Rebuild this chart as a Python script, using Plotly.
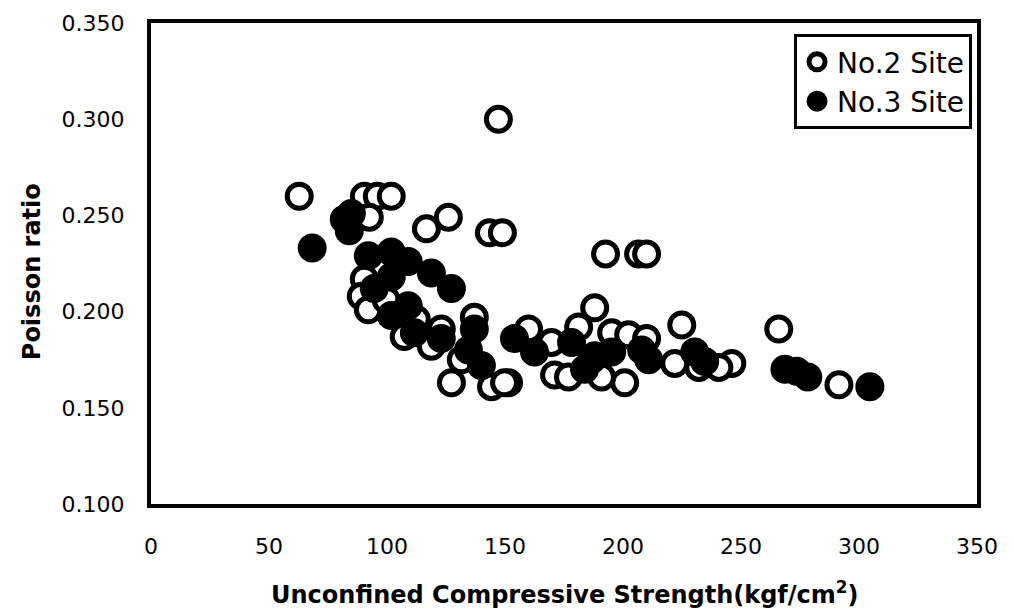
import plotly.graph_objects as go

# No.2 Site (open circles)
site2_x = [62.8, 147.2, 90.4, 95.9, 101.8, 92.5, 116.7, 126.0, 143.4, 148.9,
           192.6, 206.6, 210.0, 188.0, 224.9, 266.0, 291.5, 246.1, 240.6, 221.9,
           232.1, 160.0, 169.7, 171.0, 176.9, 181.2, 195.2, 202.4, 200.7, 151.5,
           190.9, 90.4, 89.1, 92.1, 107.3, 118.8, 127.3, 144.3, 149.8, 137.0,
           123.0, 99.7, 112.4, 131.5, 210.0, 186.7]
site2_y = [0.260, 0.300, 0.260, 0.260, 0.260, 0.249, 0.243, 0.249, 0.241, 0.241,
           0.230, 0.230, 0.230, 0.202, 0.193, 0.191, 0.162, 0.173, 0.171, 0.173,
           0.171, 0.191, 0.184, 0.167, 0.166, 0.192, 0.189, 0.188, 0.163, 0.163,
           0.166, 0.217, 0.208, 0.201, 0.187, 0.182, 0.163, 0.161, 0.163, 0.197,
           0.191, 0.206, 0.196, 0.175, 0.186, 0.175]

# No.3 Site (filled circles)
site3_x = [68.3, 81.9, 84.9, 84.0, 92.1, 101.8, 109.0, 118.8, 127.3, 137.0,
           134.5, 140.0, 109.0, 101.8, 111.6, 123.0, 94.6, 101.8, 154.0, 162.5,
           178.2, 188.0, 195.2, 207.9, 210.9, 230.4, 234.6, 183.7, 268.6, 273.6,
           278.3, 304.6]
site3_y = [0.233, 0.248, 0.251, 0.242, 0.229, 0.231, 0.226, 0.220, 0.212, 0.191,
           0.180, 0.172, 0.203, 0.198, 0.189, 0.186, 0.212, 0.218, 0.186, 0.179,
           0.184, 0.177, 0.179, 0.180, 0.175, 0.179, 0.174, 0.170, 0.170, 0.169,
           0.166, 0.161]

x_ticks = [0, 50, 100, 150, 200, 250, 300, 350]
y_ticks = [0.100, 0.150, 0.200, 0.250, 0.300, 0.350]
y_tick_text = ["0.100", "0.150", "0.200", "0.250", "0.300", "0.350"]

fig = go.Figure()
fig.add_trace(go.Scatter(
    x=site2_x, y=site2_y, mode="markers", name="No.2 Site",
    marker=dict(symbol="circle", size=24, color="white",
                line=dict(color="black", width=5)),
))
fig.add_trace(go.Scatter(
    x=site3_x, y=site3_y, mode="markers", name="No.3 Site",
    marker=dict(symbol="circle", size=24, color="black",
                line=dict(color="black", width=5)),
))

fig.update_layout(
    width=1014, height=611,
    margin=dict(l=151, r=37, t=23, b=107),
    paper_bgcolor="white", plot_bgcolor="white",
    font=dict(family="DejaVu Sans", color="black", size=22),
    showlegend=True,
    legend=dict(
        x=0.994, y=0.977, xanchor="right", yanchor="top",
        bordercolor="black", borderwidth=3, bgcolor="white",
        font=dict(family="DejaVu Sans", size=28, color="black"),
        itemsizing="trace",
    ),
    xaxis=dict(
        range=[0, 350], tickvals=x_ticks, showgrid=False, zeroline=False,
        showline=True, linecolor="black", linewidth=4, mirror=True,
        ticks="", ticklabelstandoff=20,
        tickfont=dict(family="DejaVu Sans", size=22),
    ),
    yaxis=dict(
        range=[0.1, 0.35], tickvals=y_ticks, ticktext=y_tick_text,
        showgrid=False, zeroline=False,
        showline=True, linecolor="black", linewidth=4, mirror=True,
        ticks="", ticklabelstandoff=18,
        tickfont=dict(family="DejaVu Sans", size=22),
    ),
    annotations=[
        dict(text="Unconfined Compressive Strength(kgf/cm<sup>2</sup>)",
             xref="paper", yref="paper", x=0.5, y=-0.2225, xanchor="center",
             yanchor="bottom", showarrow=False,
             font=dict(family="DejaVu Sans", size=24, weight="bold", color="black")),
        dict(text="Poisson ratio", xref="paper", yref="paper",
             x=-0.144, y=0.482, xanchor="center", yanchor="middle",
             textangle=-90, showarrow=False,
             font=dict(family="DejaVu Sans", size=24, weight="bold", color="black")),
    ],
)

fig.write_html("out.html")
